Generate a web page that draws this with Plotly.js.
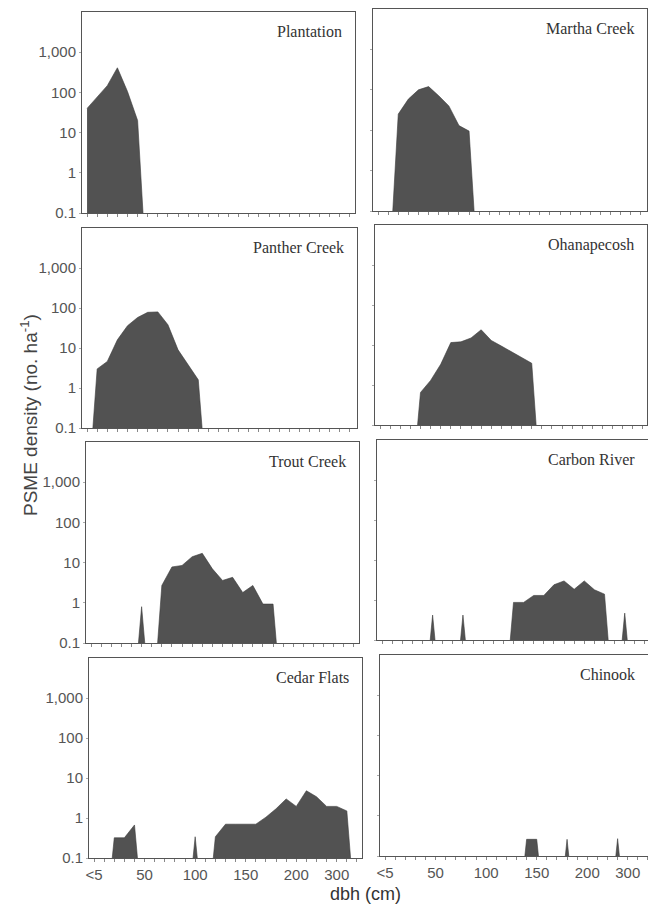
<!DOCTYPE html>
<html><head><meta charset="utf-8">
<script src="https://cdn.plot.ly/plotly-3.0.1.min.js"></script>
<style>html,body{margin:0;padding:0;background:#fff}#chart{width:648px;height:904px}</style>
</head><body><div id="chart"></div>
<script>
// dbh classes (cm) — category axis
const dbhClasses = ['<5','10','20','30','40','50','60','70','80','90','100','110','120','130','140','150','160','170','180','190','200','225','250','275','300','325','350'];
const xTickLabels = ['<5','50','100','150','200','300'];
const yTickVals = [0.1, 1, 10, 100, 1000];
const yTickText = ['0.1', '1', '10', '100', '1,000'];

// PSME density (no. ha-1) per dbh class, 0 = no trees
const plantation   = [40,78,147,410,105,20,0,0,0,0,0,0,0,0,0,0,0,0,0,0,0,0,0,0,0,0,0];
const marthaCreek  = [0,0,25,59,100,120,71,40,13,9.5,0,0,0,0,0,0,0,0,0,0,0,0,0,0,0,0,0];
const pantherCreek = [0,3.0,4.6,16,36,58,78,80,38,9,3.8,1.6,0,0,0,0,0,0,0,0,0,0,0,0,0,0,0];
const ohanapecosh  = [0,0,0,0,0.65,1.3,3.3,11.5,12,15,24,13,9.4,6.7,4.8,3.5,0,0,0,0,0,0,0,0,0,0,0];
const troutCreek   = [0,0,0,0,0,0.8,0,2.7,7.8,8.5,14,17,7,3.6,4.3,1.8,2.7,0.93,0.93,0,0,0,0,0,0,0,0];
const carbonRiver  = [0,0,0,0,0,0.42,0,0,0.42,0,0,0,0,0.87,0.87,1.3,1.3,2.4,3.0,1.85,3.0,1.8,1.4,0,0.47,0,0];
const cedarFlats   = [0,0,0.32,0.32,0.67,0,0,0,0,0,0.34,0,0.34,0.7,0.7,0.7,0.7,1.05,1.7,3.0,1.95,4.8,3.4,1.95,1.95,1.5,0];
const chinook      = [0,0,0,0,0,0,0,0,0,0,0,0,0,0,0.26,0.26,0,0,0.26,0,0,0,0,0.27,0,0,0];

const siteNames = ['Plantation','Martha Creek','Panther Creek','Ohanapecosh','Trout Creek','Carbon River','Cedar Flats','Chinook'];
const siteData  = [plantation, marthaCreek, pantherCreek, ohanapecosh, troutCreek, carbonRiver, cedarFlats, chinook];

// panel boxes in pixels: [left, right, top, bottom]
const W = 648, H = 904;
const boxes = [
  [82, 355, 12, 213], [373, 647, 9, 211],
  [82, 357, 228, 428], [375, 647, 225, 425],
  [86, 359, 442, 643], [377, 648, 440, 640],
  [89, 362, 658, 858], [380, 648, 655, 856]
];
const PX_PER_CLASS = 273 / 27;
const FLOOR = 1e-3; // where a zero is drawn on the log axis (below the visible range)

const idx = dbhClasses.map((_, i) => i);
const fontSans = 'Liberation Sans, Arial, sans-serif';
const traces = [];
const layout = {
  width: W, height: H, margin: {l: 0, r: 0, t: 0, b: 0},
  paper_bgcolor: '#fff', plot_bgcolor: '#fff', showlegend: false,
  annotations: []
};

siteData.forEach((vals, k) => {
  const n = k + 1;
  const sx = n === 1 ? '' : String(n);
  const [L, R, T, B] = boxes[k];
  const isLeft = k % 2 === 0;
  const isBottom = k >= 6;
  traces.push({
    x: idx, y: vals.map(v => v > 0 ? v : FLOOR),
    xaxis: 'x' + sx, yaxis: 'y' + sx,
    type: 'scatter', mode: 'lines', fill: 'tozeroy',
    fillcolor: '#525252', line: {color: '#3a3a3a', width: 0.6},
    hoverinfo: 'skip'
  });
  layout['xaxis' + sx] = {
    domain: [L / W, R / W], anchor: 'y' + sx,
    range: [-0.5, -0.5 + (R - L) / PX_PER_CLASS],
    tickmode: 'array', tickvals: idx,
    ticktext: dbhClasses.map(c => xTickLabels.includes(c) ? c : ''),
    tickangle: 0,
    showticklabels: isBottom,
    ticks: 'outside', ticklen: 3, tickwidth: 1, tickcolor: '#888',
    showline: true, mirror: true, linecolor: '#555', linewidth: 1,
    showgrid: false, zeroline: false,
    tickfont: {family: fontSans, size: 15, color: '#555'}
  };
  layout['yaxis' + sx] = {
    domain: [1 - B / H, 1 - T / H], anchor: 'x' + sx,
    type: 'log', range: [-1, 4],
    tickmode: 'array', tickvals: yTickVals, ticktext: yTickText,
    showticklabels: isLeft,
    ticks: 'outside', ticklen: 2, tickwidth: 1, tickcolor: '#aaa',
    showline: true, mirror: true, linecolor: '#555', linewidth: 1,
    showgrid: false, zeroline: false,
    tickfont: {family: fontSans, size: 15, color: '#555'}
  };
  layout.annotations.push({
    text: siteNames[k], xref: 'x' + sx + ' domain', yref: 'y' + sx + ' domain',
    x: 1, y: 1, xanchor: 'right', yanchor: 'top', xshift: -11, yshift: -9,
    showarrow: false, font: {family: 'Liberation Serif, Times New Roman, serif', size: 16, color: '#333'}
  });
});

layout.annotations.push({
  text: 'PSME density (no. ha<sup>-1</sup>)', xref: 'paper', yref: 'paper',
  x: 29 / W, y: 1 - 415 / H, textangle: -90, showarrow: false,
  xanchor: 'center', yanchor: 'middle',
  font: {family: fontSans, size: 19, color: '#444'}
});
layout.annotations.push({
  text: 'dbh (cm)', xref: 'paper', yref: 'paper',
  x: 366 / W, y: 1 - 894 / H, showarrow: false,
  xanchor: 'center', yanchor: 'middle',
  font: {family: fontSans, size: 18, color: '#333'}
});

Plotly.newPlot('chart', traces, layout, {staticPlot: true, displayModeBar: false});
</script>
</body></html>
